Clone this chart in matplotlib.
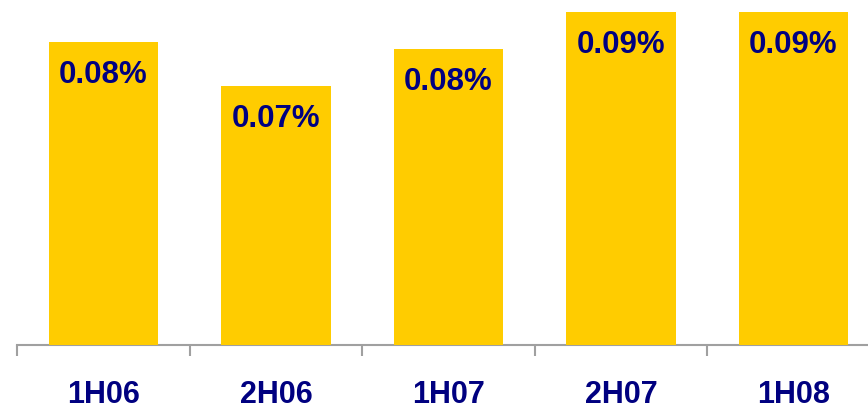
import matplotlib
matplotlib.use("Agg")
import matplotlib.pyplot as plt
import numpy as np

categories = ["1H06", "2H06", "1H07", "2H07", "1H08"]
values = [0.082, 0.070, 0.080, 0.090, 0.090]
labels = ["0.08%", "0.07%", "0.08%", "0.09%", "0.09%"]

bar_color = "#FFCC00"
text_color = "#000080"
axis_color = "#A0A0A0"

plt.rcParams['font.family'] = ['Liberation Sans', 'DejaVu Sans']

W, H = 868, 408
fig = plt.figure(figsize=(W / 100, H / 100), dpi=100)
left_px, right_px = 17.25, 879.75
base_px = 345
ax = fig.add_axes([left_px / W, (H - base_px) / H, (right_px - left_px) / W, base_px / H])

x = np.arange(len(categories))
ax.bar(x, values, width=0.635, color=bar_color, zorder=2)
ax.set_xlim(-0.5, len(categories) - 0.5)
ax.set_ylim(0, 0.09 * 345 / 333)

for xi, v, lab in zip(x, values, labels):
    ax.annotate(lab, (xi, v), xytext=(0, -24), textcoords="offset points",
                ha="center", va="center", fontsize=22.5, fontweight="bold",
                color=text_color, zorder=3)

for s in ["top", "right", "left"]:
    ax.spines[s].set_visible(False)
ax.spines["bottom"].set_color(axis_color)
ax.spines["bottom"].set_linewidth(1.5)
ax.spines["bottom"].set_zorder(1)
ax.set_yticks([])

ax.set_xticks(x)
ax.set_xticklabels(categories, fontsize=22, fontweight="bold", color=text_color)
ax.tick_params(axis="x", which="major", length=0, pad=25)
ax.set_xticks(np.arange(-0.5, len(categories)), minor=True)
ax.tick_params(axis="x", which="minor", length=8, width=1.5, color=axis_color, direction="out")

fig.savefig("out.png", dpi=100)
